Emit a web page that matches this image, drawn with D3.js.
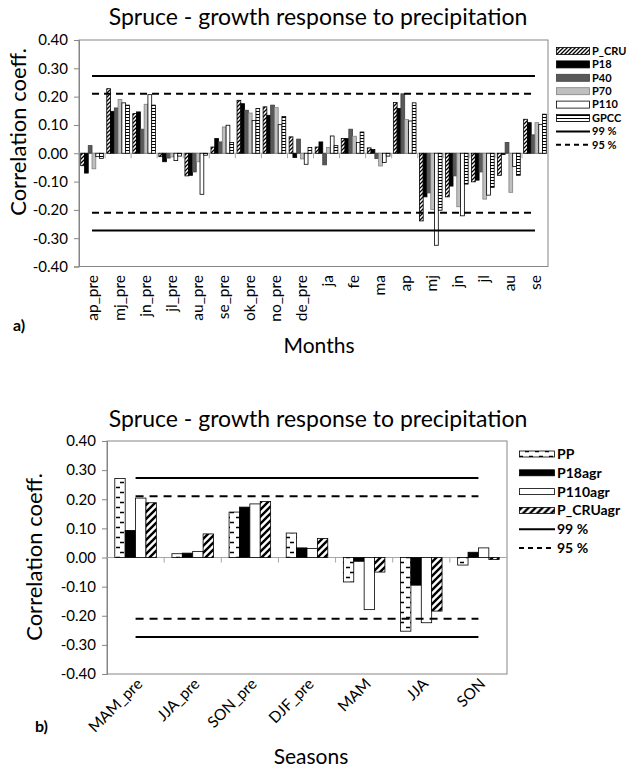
<!DOCTYPE html>
<html>
<head>
<meta charset="utf-8">
<script src="https://cdn.jsdelivr.net/npm/d3@7"></script>
<style>
  body { margin: 0; background: #fff; }
  svg { font-family: Lato, "Open Sans", sans-serif; }
</style>
</head>
<body>
<svg id="chart" width="643" height="770"></svg>
<script>
// ---- data ----
var months = ["ap_pre", "mj_pre", "jn_pre", "jl_pre", "au_pre", "se_pre", "ok_pre", "no_pre", "de_pre",
  "ja", "fe", "ma", "ap", "mj", "jn", "jl", "au", "se"];
var P_CRU = [-0.044, 0.228, 0.140, -0.012, -0.080, 0.022, 0.187, 0.164, 0.058, 0.022, 0.052, 0.019, 0.179, -0.239, -0.154, -0.101, -0.078, 0.120];
var P18   = [-0.070, 0.148, 0.146, -0.030, -0.078, 0.052, 0.175, 0.134, -0.015, 0.040, 0.052, 0.013, 0.158, -0.154, -0.116, -0.095, -0.004, 0.108];
var P40   = [0.027, 0.160, 0.085, -0.017, -0.066, 0.040, 0.152, 0.170, 0.050, -0.041, 0.085, -0.019, 0.210, -0.140, -0.080, -0.066, 0.038, 0.065];
var P70   = [-0.055, 0.190, 0.173, -0.013, -0.030, 0.093, 0.142, 0.161, -0.020, 0.020, 0.060, -0.045, 0.119, -0.199, -0.189, -0.162, -0.138, 0.108];
var P110  = [-0.012, 0.178, 0.207, -0.026, -0.145, 0.099, 0.116, 0.101, -0.039, 0.061, 0.038, -0.033, 0.114, -0.325, -0.221, -0.148, -0.047, 0.102];
var GPCC  = [-0.018, 0.170, 0.170, -0.010, -0.007, 0.038, 0.158, 0.130, 0.020, 0.027, 0.075, -0.010, 0.178, -0.201, -0.109, -0.121, -0.078, 0.138];

var seasons = ["MAM_pre", "JJA_pre", "SON_pre", "DJF_pre", "MAM", "JJA", "SON"];
var PP       = [0.271, 0.013, 0.156, 0.084, -0.084, -0.253, -0.026];
var P18agr   = [0.093, 0.015, 0.173, 0.033, -0.013, -0.095, 0.018];
var P110agr  = [0.204, 0.021, 0.184, 0.031, -0.179, -0.224, 0.033];
var P_CRUagr = [0.188, 0.081, 0.192, 0.065, -0.050, -0.184, -0.007];

var sig99 = 0.273, sig95 = 0.21;
var yTicks = [-0.4, -0.3, -0.2, -0.1, 0, 0.1, 0.2, 0.3, 0.4];
var title = "Spruce - growth response to precipitation";

var svg = d3.select("#chart");
var defs = svg.append("defs");

// fill patterns
function diagPattern(id, size, sw) {
  var p = defs.append("pattern").attr("id", id).attr("patternUnits", "userSpaceOnUse")
    .attr("width", size).attr("height", size);
  p.append("rect").attr("width", size).attr("height", size).attr("fill", "#fff");
  p.append("path")
    .attr("d", "M" + (-size / 2) + "," + (size / 2) + "l" + size + "," + (-size) +
      "M0," + size + "l" + size + "," + (-size) +
      "M" + (size / 2) + "," + (size * 1.5) + "l" + size + "," + (-size))
    .attr("stroke", "#000").attr("stroke-width", sw);
}
diagPattern("diagS", 4, 1.3);
diagPattern("diagL", 7, 2.4);

var hs = defs.append("pattern").attr("id", "hstripe").attr("patternUnits", "userSpaceOnUse")
  .attr("width", 4).attr("height", 3);
hs.append("rect").attr("width", 4).attr("height", 3).attr("fill", "#fff");
hs.append("rect").attr("width", 4).attr("height", 1).attr("fill", "#000");

var br = defs.append("pattern").attr("id", "brick").attr("patternUnits", "userSpaceOnUse")
  .attr("width", 10).attr("height", 10);
br.append("rect").attr("width", 10).attr("height", 10).attr("fill", "#fff");
br.append("path").attr("d", "M0,2.5h4M6,7.5h4").attr("stroke", "#000").attr("stroke-width", 1.3);

function fmt(d) { return d.toFixed(2); }

function drawChart(cfg) {
  var g = svg.append("g");
  var x = d3.scaleBand().domain(cfg.categories).range(cfg.xRange);
  var y = d3.scaleLinear().domain([-0.4, 0.4]).range(cfg.yRange);
  var xs = d3.scaleBand().domain(cfg.series.map(function(s) { return s.name; }))
    .range([0, x.bandwidth()]).paddingOuter(cfg.groupPad);

  // plot frame
  g.append("rect")
    .attr("x", cfg.xRange[0]).attr("y", cfg.yRange[1])
    .attr("width", cfg.xRange[1] - cfg.xRange[0]).attr("height", cfg.yRange[0] - cfg.yRange[1])
    .attr("fill", "none").attr("stroke", "#868686").attr("stroke-width", 1);

  // y axis
  var yAxis = g.append("g")
    .attr("transform", "translate(" + cfg.xRange[0] + ",0)")
    .call(d3.axisLeft(y).tickValues(yTicks).tickFormat(fmt).tickSize(5).tickPadding(6));
  yAxis.selectAll("path, line").attr("stroke", "#868686");
  yAxis.selectAll("text").attr("font-family", "Lato, sans-serif").attr("font-size", 15).attr("fill", "#000");

  // zero line with category ticks
  g.append("line")
    .attr("x1", cfg.xRange[0]).attr("x2", cfg.xRange[1])
    .attr("y1", y(0)).attr("y2", y(0))
    .attr("stroke", "#a6a6a6").attr("stroke-width", 1);
  g.selectAll(".ctick").data(cfg.categories.slice(1)).enter().append("line")
    .attr("x1", function(d) { return x(d); }).attr("x2", function(d) { return x(d); })
    .attr("y1", y(0)).attr("y2", y(0) + 5)
    .attr("stroke", "#a6a6a6");

  // bars
  cfg.series.forEach(function(s) {
    g.selectAll(null).data(s.values).enter().append("rect")
      .attr("x", function(d, i) { return x(cfg.categories[i]) + xs(s.name); })
      .attr("width", xs.bandwidth())
      .attr("y", function(d) { return Math.min(y(d), y(0)); })
      .attr("height", function(d) { return Math.abs(y(d) - y(0)); })
      .attr("fill", s.fill)
      .attr("stroke", s.stroke).attr("stroke-width", 0.8);
  });

  // significance lines
  var line = d3.line()
    .x(function(d) { return x(d) + x.bandwidth() / 2; });
  [[sig99, null], [sig95, cfg.dash], [-sig95, cfg.dash], [-sig99, null]].forEach(function(l) {
    g.append("path")
      .attr("d", line.y(function() { return y(l[0]); })(cfg.categories))
      .attr("fill", "none").attr("stroke", "#000").attr("stroke-width", 2)
      .attr("stroke-dasharray", l[1]);
  });

  // category labels
  g.selectAll(".xl").data(cfg.categories).enter().append("text")
    .attr("transform", function(d) {
      return "translate(" + (x(d) + x.bandwidth() / 2 + cfg.labelDx) + "," + cfg.labelY + ") rotate(" + cfg.labelRot + ")";
    })
    .attr("text-anchor", "end")
    .attr("dy", cfg.labelDy)
    .attr("font-size", 15.5)
    .text(function(d) { return d; });

  // titles
  g.append("text").attr("x", cfg.titleX).attr("y", cfg.titleY)
    .attr("text-anchor", "middle").attr("font-size", 23).text(title);
  g.append("text")
    .attr("transform", "translate(" + cfg.yTitleX + "," + cfg.yTitleY + ") rotate(-90)")
    .attr("text-anchor", "middle").attr("font-size", 22).text("Correlation coeff.");
  g.append("text").attr("x", cfg.xTitleX).attr("y", cfg.xTitleY)
    .attr("text-anchor", "middle").attr("font-size", 21).text(cfg.xTitle);
  g.append("text").attr("x", cfg.tagX).attr("y", cfg.tagY)
    .attr("font-size", 16).attr("font-weight", "bold").text(cfg.tag);

  // legend
  var items = cfg.series.map(function(s) { return { name: s.name, fill: s.fill, stroke: s.stroke }; })
    .concat([{ name: "99 %", line: null }, { name: "95 %", line: cfg.legendDash }]);
  var lg = g.append("g").attr("transform", "translate(" + cfg.legendX + "," + cfg.legendY + ")");
  items.forEach(function(it, i) {
    var row = lg.append("g").attr("transform", "translate(0," + (i * cfg.legendStep) + ")");
    if ("line" in it) {
      row.append("line").attr("x1", 0).attr("x2", cfg.swatchW).attr("y1", 0).attr("y2", 0)
        .attr("stroke", "#000").attr("stroke-width", 2).attr("stroke-dasharray", it.line);
    } else {
      row.append("rect").attr("x", 0.5).attr("y", -cfg.swatchH / 2).attr("width", cfg.swatchW - 1)
        .attr("height", cfg.swatchH).attr("fill", it.fill).attr("stroke", it.stroke).attr("stroke-width", 0.8);
    }
    row.append("text").attr("x", cfg.swatchW + 2).attr("dy", "0.35em")
      .attr("font-size", cfg.legendFont).attr("font-weight", "bold").text(it.name);
  });
}

drawChart({
  categories: months,
  series: [
    { name: "P_CRU", values: P_CRU, fill: "url(#diagS)", stroke: "#000" },
    { name: "P18", values: P18, fill: "#000", stroke: "#000" },
    { name: "P40", values: P40, fill: "#595959", stroke: "#404040" },
    { name: "P70", values: P70, fill: "#bfbfbf", stroke: "#808080" },
    { name: "P110", values: P110, fill: "#fff", stroke: "#000" },
    { name: "GPCC", values: GPCC, fill: "url(#hstripe)", stroke: "#000" }
  ],
  xRange: [79, 548], yRange: [266.5, 40], groupPad: 0.45, dash: "7,5",
  labelY: 275, labelRot: -90, labelDx: 1, labelDy: "0.35em",
  titleX: 318, titleY: 25, yTitleX: 26, yTitleY: 132,
  xTitle: "Months", xTitleX: 319, xTitleY: 353, tag: "a)", tagX: 13, tagY: 331,
  legendX: 556, legendY: 51, legendStep: 13.4, swatchW: 34, swatchH: 7, legendFont: 11, legendDash: "5,4"
});

drawChart({
  categories: seasons,
  series: [
    { name: "PP", values: PP, fill: "url(#brick)", stroke: "#000" },
    { name: "P18agr", values: P18agr, fill: "#000", stroke: "#000" },
    { name: "P110agr", values: P110agr, fill: "#fff", stroke: "#000" },
    { name: "P_CRUagr", values: P_CRUagr, fill: "url(#diagL)", stroke: "#000" }
  ],
  xRange: [107, 507], yRange: [674, 441], groupPad: 0.75, dash: "8,6",
  labelY: 681, labelRot: -45, labelDx: 4, labelDy: "0.35em",
  titleX: 318, titleY: 427, yTitleX: 42, yTitleY: 557,
  xTitle: "Seasons", xTitleX: 311, xTitleY: 764, tag: "b)", tagX: 35, tagY: 732,
  legendX: 519, legendY: 454, legendStep: 18.8, swatchW: 36, swatchH: 6, legendFont: 14, legendDash: "5,4"
});
</script>
</body>
</html>
